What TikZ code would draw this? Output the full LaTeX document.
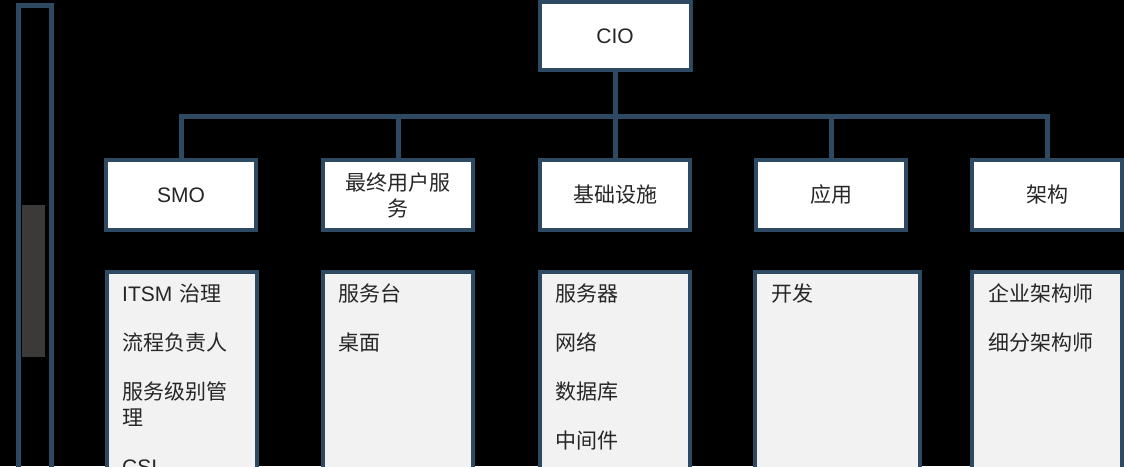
\documentclass[tikz,border=0pt]{standalone}
\usepackage{fontspec}
\setmainfont{Noto Sans CJK SC}
\newfontfamily\lat{Liberation Sans}
\usetikzlibrary{positioning}

\definecolor{edge}{RGB}{46,74,98}
\definecolor{listfill}{RGB}{242,242,242}
\definecolor{ink}{RGB}{38,38,38}
\definecolor{blob}{RGB}{60,58,56}

\tikzset{
	role/.style={draw=edge, line width=4pt, fill=white, minimum width=150pt, minimum height=70pt, inner sep=0pt, text=ink, align=center, font=\fontsize{21}{26}\selectfont},
	duty/.style={draw=edge, line width=4pt, fill=listfill, minimum width=150pt, minimum height=210pt, anchor=north},
	items/.style={anchor=base west, inner sep=0pt, text=ink, text width=130pt, align=left, font=\fontsize{21}{26}\selectfont},
	link/.style={draw=edge, line width=5pt},
}

\begin{document}
\begin{tikzpicture}[x=1pt, y=-1pt]
	\clip (0,0) rectangle (1124,466);
	\fill[black] (0,0) rectangle (1124,466);

	% Left side bar
	\node[draw=edge, line width=5pt, minimum width=33pt, minimum height=480pt, inner sep=0pt] (sidebar) at (34.5,245) {};
	\fill[blob] (22,205) rectangle (45,357);

	% Define the nodes with specific positions
	\node[role, minimum width=151pt, minimum height=68pt] (cio) at (615,36) {\lat CIO};

	\node[role] (smo) at (181,195) {\lat SMO};
	\node[role] (eus) at (398,195) {最终用户服\\务};
	\node[role] (infra) at (615,195) {基础设施};
	\node[role] (app) at (831,195) {应用};
	\node[role] (arch) at (1047,195) {架构};

	% Lists of duties under each role
	\node[duty] (smolist) at (182,270) {};
	\node[duty] (euslist) at (398,270) {};
	\node[duty] (infralist) at (615,270) {};
	\node[duty, minimum width=165pt] (applist) at (837,270) {};
	\node[duty] (archlist) at (1047,270) {};

	\node[items] (smoitems) at (122,301) {{\lat ITSM} 治理\\[23pt]流程负责人\\[23pt]服务级别管\\理\\[23pt]{\lat CSI}};
	\node[items] (eusitems) at (338,301) {服务台\\[23pt]桌面};
	\node[items] (infraitems) at (555,301) {服务器\\[23pt]网络\\[23pt]数据库\\[23pt]中间件};
	\node[items] (appitems) at (771,301) {开发};
	\node[items] (architems) at (988,301) {企业架构师\\[23pt]细分架构师};

	% Draw the connectors from CIO to the roles
	\coordinate (bus) at (615,116);
	\draw[link] (cio) -- (infra);
	\draw[link] (smo.north) -- (smo.north |- bus) -- (arch.north |- bus) -- (arch.north);
	\draw[link] (eus.north) -- (eus.north |- bus);
	\draw[link] (app.north) -- (app.north |- bus);
\end{tikzpicture}
\end{document}
